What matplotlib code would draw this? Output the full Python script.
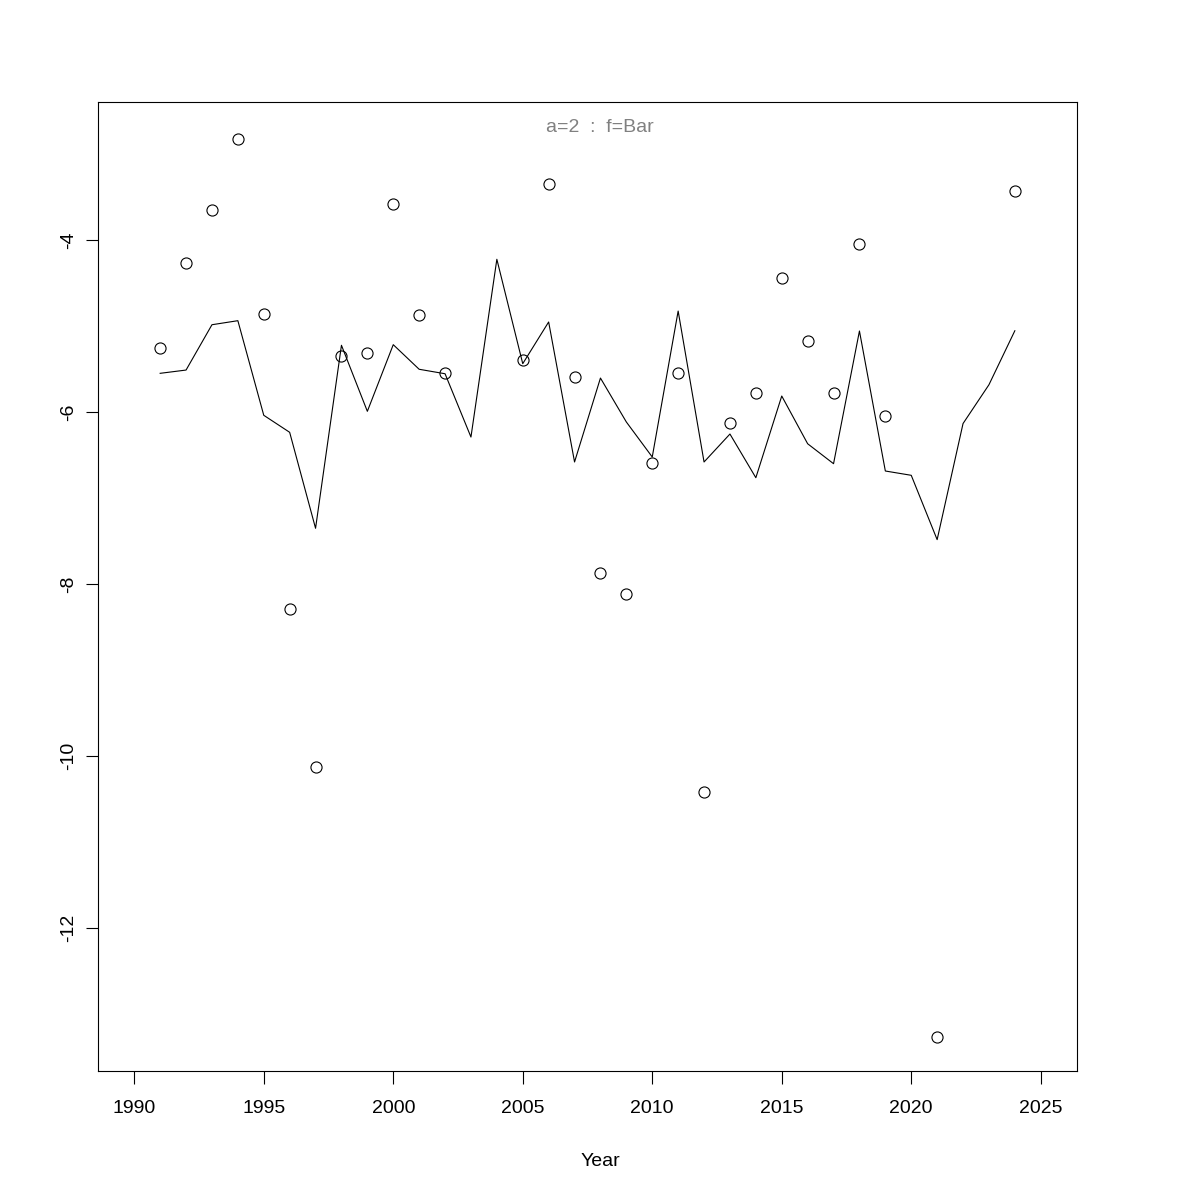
import matplotlib
matplotlib.use('Agg')
import matplotlib.pyplot as plt

plt.rcParams['font.family'] = ['Liberation Sans', 'DejaVu Sans']

# observed points (years with a value)
pt_years = [1991, 1992, 1993, 1994, 1995, 1996, 1997, 1998, 1999, 2000,
            2001, 2002, 2005, 2006, 2007, 2008, 2009, 2010, 2011, 2012,
            2013, 2014, 2015, 2016, 2017, 2018, 2019, 2021, 2024]
pt_values = [-5.256, -4.267, -3.655, -2.826, -4.864, -8.294, -10.128, -5.352, -5.314, -3.578,
             -4.876, -5.543, -5.399, -3.349, -5.597, -7.876, -8.113, -6.590, -5.543, -10.419,
             -6.124, -5.776, -4.442, -5.178, -5.783, -4.050, -6.043, -13.267, -3.434]

# fitted line
line_years = list(range(1991, 2025))
line_values = [-5.550, -5.512, -4.985, -4.938, -6.038, -6.236, -7.352, -5.224, -5.992, -5.217,
               -5.503, -5.555, -6.291, -4.224, -5.438, -4.953, -6.581, -5.605, -6.116, -6.523,
               -4.826, -6.581, -6.256, -6.764, -5.814, -6.369, -6.601, -5.058, -6.686, -6.736,
               -7.484, -6.134, -5.683, -5.055]

x_ticks = [1990, 1995, 2000, 2005, 2010, 2015, 2020, 2025]
y_ticks = [-12, -10, -8, -6, -4]

fig = plt.figure(figsize=(12, 12), dpi=100)
ax = fig.add_axes([98 / 1200, 1 - 1071 / 1200, 979 / 1200, 969 / 1200])

ax.plot(line_years, line_values, color='black', linewidth=0.8)
ax.plot(pt_years, pt_values, linestyle='none', marker='o', markersize=8,
        markerfacecolor='none', markeredgecolor='black', markeredgewidth=0.8)

ax.set_xlim(1988.6, 2026.4)
ax.set_ylim(-13.663, -2.395)
ax.set_xticks(x_ticks)
ax.set_yticks(y_ticks)
ax.set_yticklabels([str(v) for v in y_ticks], rotation=90, va='center')
ax.tick_params(direction='out', length=9, width=0.8, labelsize=14)
ax.tick_params(axis='x', pad=12)
ax.tick_params(axis='y', pad=6)
for s in ax.spines.values():
    s.set_linewidth(0.8)

fig.text(0.5, 1 - 128 / 1200, 'a=2  :  f=Bar', ha='center', va='center',
         color='#808080', fontsize=14)
fig.text(0.5, 1 - 1162 / 1200, 'Year', ha='center', va='center', fontsize=14)

fig.savefig('out.png', dpi=100)
